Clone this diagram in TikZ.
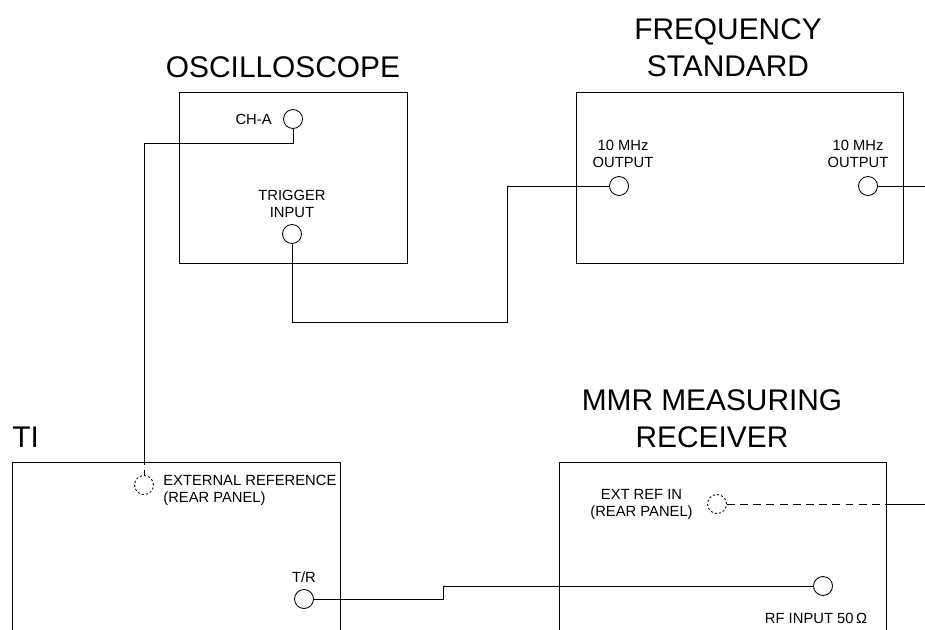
\documentclass[tikz,border=0pt]{standalone}
\usepackage{fontspec}
\setmainfont{Liberation Sans}
\usetikzlibrary{positioning}

\begin{document}
\begin{tikzpicture}[x=0.02cm, y=-0.02cm, line width=0.5pt,
    every node/.style={font=\fontsize{8.4}{9.7}\selectfont, inner sep=0pt},
    title/.style={font=\fontsize{17}{21}\selectfont, align=center},
    port/.style={draw, circle, minimum size=0.38cm},
    rearport/.style={port, dash pattern=on 1.2pt off 1.2pt},
    rearline/.style={dash pattern=on 4.5pt off 3pt},
    unit/.style={draw}]
    \clip (0,0) rectangle (925,629);

    % Oscilloscope
    \draw[unit] (179,92) rectangle (407,263);
    \node[title, anchor=south] (osctitle) at (283,78) {OSCILLOSCOPE};
    \node[port] (cha) at (293,119) {};
    \node[left=0.22cm of cha] (chalbl) {CH-A};
    \node[port] (trig) at (292,234) {};
    \node[above=0.12cm of trig, align=center] (triglbl) {TRIGGER\\INPUT};

    % Frequency standard
    \draw[unit] (576,92) rectangle (903,263);
    \node[title, anchor=south] (fstitle) at (728,77) {FREQUENCY\\STANDARD};
    \node[port] (fsouta) at (619,186) {};
    \node[above=0.16cm of fsouta, xshift=0.08cm, align=center] (fsalbl) {10 MHz\\OUTPUT};
    \node[port] (fsoutb) at (868,186) {};
    \node[above=0.16cm of fsoutb, xshift=-0.2cm, align=center] (fsblbl) {10 MHz\\OUTPUT};

    % TI
    \draw[unit] (12,462) rectangle (340,640);
    \node[title, anchor=south west] (tititle) at (12,448) {TI};
    \node[rearport] (extref) at (144,485) {};
    \node[right=0.18cm of extref, yshift=-0.1cm, align=left] (extreflbl) {EXTERNAL REFERENCE\\(REAR PANEL)};
    \node[port] (tr) at (304,599) {};
    \node[above=0.12cm of tr] (trlbl) {T/R};

    % MMR measuring receiver
    \draw[unit] (559,462) rectangle (886,640);
    \node[title, anchor=south] (mmrtitle) at (712,448) {MMR MEASURING\\RECEIVER};
    \node[rearport] (extin) at (717,504) {};
    \node[left=0.28cm of extin, align=center] (extinlbl) {EXT REF IN\\(REAR PANEL)};
    \node[port] (rfin) at (823,586) {};
    \node[below=0.34cm of rfin, xshift=-0.14cm] (rfinlbl) {RF INPUT 50\,Ω};

    % Cables
    \coordinate (chabend) at (144,143);
    \coordinate (tiedge) at (144,462);
    \draw (cha.south) |- (chabend) -- (tiedge);
    \draw[rearline, dash phase=3pt] (tiedge) -- (extref.north);

    \coordinate (trigbend) at (507,322);
    \draw (trig.south) |- (trigbend) |- (fsouta.west);

    \coordinate (fsend) at (925,186);
    \draw (fsoutb.east) -- (fsend);

    \coordinate (trbend) at (443,599);
    \draw (tr.east) -- (trbend) |- (rfin.west);

    \coordinate (mmredge) at (886,504);
    \coordinate (extinend) at (925,504);
    \draw[rearline] (extin.east) -- (mmredge);
    \draw (mmredge) -- (extinend);
\end{tikzpicture}
\end{document}
